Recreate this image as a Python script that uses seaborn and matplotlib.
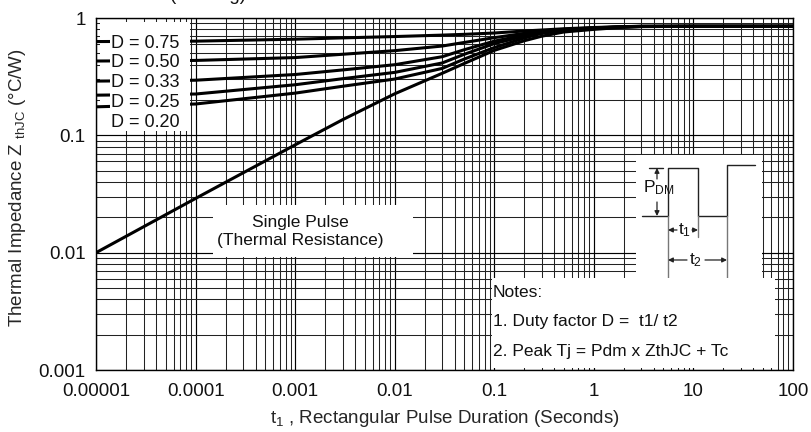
"""Transient thermal impedance chart (ZthJC vs rectangular pulse duration)."""

import matplotlib

matplotlib.use("Agg")

import matplotlib.pyplot as plt
import numpy as np
import pandas as pd
import seaborn as sns
from matplotlib.patches import Rectangle
from matplotlib.ticker import FixedLocator, LogLocator, NullFormatter

# ---- data ------------------------------------------------------------------
pulse_t = [1e-5, 1e-4, 1e-3, 3e-3, 1e-2, 0.03, 0.05, 0.1, 0.2, 0.3, 0.5, 1, 2, 3, 10, 100]

z_d075 = [0.63, 0.635, 0.66, 0.677, 0.695, 0.715, 0.726, 0.745, 0.775, 0.79, 0.81, 0.83,
          0.845, 0.85, 0.85, 0.85]
z_d050 = [0.43, 0.435, 0.46, 0.491, 0.527, 0.577, 0.619, 0.68, 0.74, 0.77, 0.80, 0.825,
          0.843, 0.85, 0.85, 0.85]
z_d033 = [0.29, 0.295, 0.33, 0.361, 0.40, 0.468, 0.537, 0.635, 0.715, 0.76, 0.795, 0.82,
          0.842, 0.848, 0.85, 0.85]
z_d025 = [0.22, 0.225, 0.27, 0.304, 0.344, 0.414, 0.491, 0.605, 0.70, 0.75, 0.79, 0.82,
          0.841, 0.847, 0.85, 0.85]
z_d020 = [0.175, 0.185, 0.229, 0.262, 0.302, 0.372, 0.447, 0.56, 0.675, 0.74, 0.785, 0.815,
          0.84, 0.846, 0.85, 0.85]
z_single = [0.010, 0.029, 0.083, 0.136, 0.226, 0.338, 0.41, 0.53, 0.64, 0.70, 0.76, 0.80,
            0.835, 0.845, 0.85, 0.85]

duty_labels = ["D = 0.75", "D = 0.50", "D = 0.33", "D = 0.25", "D = 0.20"]
series_values = [z_d075, z_d050, z_d033, z_d025, z_d020, z_single]
series_names = duty_labels + ["Single Pulse"]

x_ticks = [1e-5, 1e-4, 1e-3, 1e-2, 0.1, 1, 10, 100]
x_tick_labels = ["0.00001", "0.0001", "0.001", "0.01", "0.1", "1", "10", "100"]
y_ticks = [0.001, 0.01, 0.1, 1]
y_tick_labels = ["0.001", "0.01", "0.1", "1"]

notes = ["Notes:", "1. Duty factor D =  t1/ t2", "2. Peak Tj = Pdm x ZthJC + Tc"]

# ---- style -------------------------------------------------------------------
sns.set_theme(style="white")
plt.rcParams["font.family"] = ["Liberation Sans", "DejaVu Sans"]
plt.rcParams["mathtext.fontset"] = "custom"
plt.rcParams["mathtext.rm"] = "Liberation Sans"
plt.rcParams["mathtext.it"] = "Liberation Sans:italic"
plt.rcParams["text.color"] = "#111111"

df = pd.concat(
    [pd.DataFrame({"t": pulse_t, "z": vals, "series": name})
     for name, vals in zip(series_names, series_values)],
    ignore_index=True,
)

fig = plt.figure(figsize=(8.11, 4.32), dpi=100)
ax = fig.add_axes([0.1184, 0.1435, 0.8594, 0.8148])

sns.lineplot(data=df, x="t", y="z", units="series", estimator=None, sort=False,
             color="black", lw=2.2, legend=False, ax=ax, zorder=2)

ax.set_xscale("log")
ax.set_yscale("log")
ax.set_xlim(1e-5, 100)
ax.set_ylim(1e-3, 1)

ax.xaxis.set_major_locator(FixedLocator(x_ticks))
ax.yaxis.set_major_locator(FixedLocator(y_ticks))
ax.set_xticklabels(x_tick_labels)
ax.set_yticklabels(y_tick_labels)
for axis in (ax.xaxis, ax.yaxis):
    axis.set_minor_locator(LogLocator(base=10, subs=np.arange(2, 10), numticks=30))
    axis.set_minor_formatter(NullFormatter())
ax.tick_params(which="both", length=0, labelsize=13.5, colors="#111111")
ax.tick_params(axis="x", pad=9)
ax.tick_params(axis="y", pad=7.5)

ax.set_axisbelow(True)
ax.grid(True, which="major", color="black", lw=0.85)
ax.grid(True, which="minor", color="#222222", lw=0.75)
for s in ax.spines.values():
    s.set_color("black")
    s.set_linewidth(1.0)

ax.set_xlabel(r"t$_1$ , Rectangular Pulse Duration (Seconds)", fontsize=13.5)
ax.set_ylabel(r"Thermal Impedance Z $_{\mathrm{thJC}}$ (°C/W)", fontsize=13.5)
ax.xaxis.set_label_coords(0.5, -0.108)
ax.yaxis.set_label_coords(-0.097, 0.517)

# white boxes knocking out the grid behind the annotations
def white_box(x0, y0, w, h, z):
    ax.add_patch(Rectangle((x0, y0), w, h, transform=ax.transAxes,
                           facecolor="white", edgecolor="none", zorder=z))

white_box(0.0057, 0.679, 0.129, 0.310, 1)     # behind curves (grid only)
white_box(0.0201, 0.679, 0.115, 0.292, 4)     # under the duty labels
white_box(0.168, 0.321, 0.287, 0.148, 4)      # single pulse note
white_box(0.568, 0.0057, 0.406, 0.255, 4)     # notes

for i, lab in enumerate(duty_labels):
    ax.text(0.0215, 0.929 - i * 0.0563, lab, transform=ax.transAxes,
            fontsize=13, va="center", ha="left", zorder=5)

ax.text(0.293, 0.3935, "Single Pulse\n(Thermal Resistance)", transform=ax.transAxes,
        fontsize=12.5, ha="center", va="center", multialignment="center",
        linespacing=1.3, zorder=5)

for i, line in enumerate(notes):
    ax.text(0.5696, 0.2216 - i * 0.0852, line, transform=ax.transAxes,
            fontsize=12.5, ha="left", va="center", zorder=5)

# cut-off heading at the very top of the sheet (clipped in the reference too)
fig.text(170 / 811, 1.0, "(Heating)", fontsize=13.5, ha="left", va="baseline")

# ---- duty-cycle sketch inset -------------------------------------------------
ins = fig.add_axes([0.7842, 0.3565, 0.1554, 0.2847], zorder=5)
ins.set_facecolor("white")
ins.set_xlim(0, 126)
ins.set_ylim(123, 0)
ins.set_xticks([])
ins.set_yticks([])
for s in ins.spines.values():
    s.set_visible(False)

ink = "#222222"
ins.plot([6, 32, 32, 62, 62, 91, 91, 119], [61, 61, 13, 13, 61, 61, 10, 10],
         color=ink, lw=1.0)
ins.plot([13, 27], [13, 13], color=ink, lw=1.0)
for xe, ye in [(32, 123), (62, 82), (91, 123)]:
    ins.plot([xe, xe], [61, ye], color="#777777", lw=1.0)

arrow = dict(arrowstyle="-|>", lw=0.9, color=ink, mutation_scale=7,
             shrinkA=0, shrinkB=0)
ins.annotate("", xy=(21, 13), xytext=(21, 24), arrowprops=arrow)
ins.annotate("", xy=(21, 61), xytext=(21, 47), arrowprops=arrow)
ins.text(7, 33, r"P$_{\mathrm{DM}}$", fontsize=12.5, va="center", ha="left")

ins.annotate("", xy=(32, 75), xytext=(41, 75), arrowprops=arrow)
ins.annotate("", xy=(62, 75), xytext=(56, 75), arrowprops=arrow)
ins.text(49, 75, r"t$_1$", fontsize=12.5, va="center", ha="center")

ins.annotate("", xy=(32, 105), xytext=(51, 105), arrowprops=arrow)
ins.annotate("", xy=(91, 105), xytext=(69, 105), arrowprops=arrow)
ins.text(60, 105, r"t$_2$", fontsize=12.5, va="center", ha="center")

fig.savefig("out.png", dpi=100)
